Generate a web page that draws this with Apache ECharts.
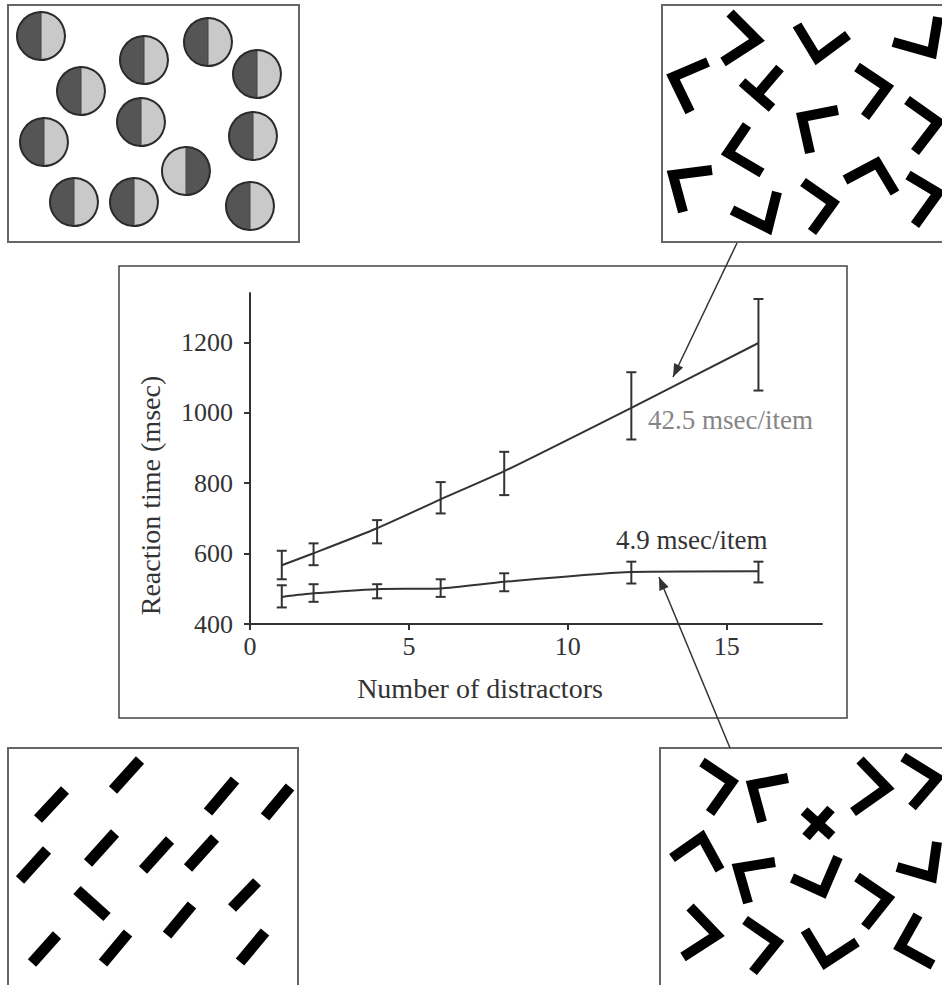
<!DOCTYPE html>
<html><head><meta charset="utf-8">
<script src="https://cdn.jsdelivr.net/npm/echarts@6/dist/echarts.min.js"></script>
<style>html,body{margin:0;padding:0;background:#fff}#c{width:942px;height:985px}</style>
</head><body><div id="c"></div>
<script>
// ---- data ----
const distractors = [1, 2, 4, 6, 8, 12, 16];
const conjMean = [567, 601, 672, 754, 834, 1014, 1198];
const conjLow  = [527, 567, 629, 714, 766, 924, 1063];
const conjHigh = [608, 629, 695, 803, 889, 1115, 1323];
const featMean = [477, 487, 499, 501, 520, 548, 550];
const featLow  = [447, 463, 473, 477, 493, 515, 518];
const featHigh = [510, 513, 513, 527, 544, 577, 577];
const xTicks = [0, 5, 10, 15];
const yTicks = [400, 600, 800, 1000, 1200];
const slopeLabels = ['42.5 msec/item', '4.9 msec/item'];
const xName = 'Number of distractors';
const yName = 'Reaction time (msec)';

// ---- decorative stimulus panels ----
const FONT = '"Liberation Serif", "DejaVu Serif", serif';
const circles = [[41,36,0],[144,60,0],[208,42,0],[257,74,0],[81,91,0],[141,122,0],[44,142,0],[253,136,0],[186,171,1],[74,202,0],[134,202,0],[250,206,0]];
const topRightShapes = [
  [[730,13],[757,40],[723,62]],
  [[797,25],[817,58],[848,35]],
  [[893,42],[932,53],[938,17]],
  [[708,62],[673,77],[690,112]],
  [[742,82],[772,108]], [[757,95],[780,68]],
  [[857,67],[887,87],[865,117]],
  [[838,110],[802,117],[810,153]],
  [[747,125],[728,153],[762,173]],
  [[907,100],[938,122],[915,152]],
  [[712,170],[673,175],[683,212]],
  [[732,210],[768,228],[777,192]],
  [[803,182],[833,203],[812,232]],
  [[845,180],[877,163],[895,193]],
  [[908,175],[938,193],[915,225]]
];
const bottomLeftBars = [
  [[38,819],[65,790]],[[113,790],[140,760]],[[208,812],[235,780]],[[265,817],[290,787]],
  [[20,880],[47,850]],[[88,863],[115,833]],[[143,870],[170,840]],[[188,868],[215,838]],
  [[77,890],[107,917]],[[232,908],[257,882]],[[167,935],[192,905]],
  [[32,963],[57,935]],[[103,963],[128,933]],[[240,962],[265,932]]
];
const bottomRightShapes = [
  [[702,762],[732,782],[710,813]],
  [[788,778],[752,785],[762,822]],
  [[804,811],[832,836]], [[831,809],[806,837]],
  [[860,760],[887,788],[853,812]],
  [[903,757],[937,778],[912,807]],
  [[672,858],[702,837],[720,870]],
  [[775,862],[738,868],[748,903]],
  [[792,878],[823,892],[838,857]],
  [[897,867],[932,877],[937,842]],
  [[857,877],[888,898],[865,927]],
  [[690,907],[717,935],[683,957]],
  [[745,920],[777,942],[753,972]],
  [[805,930],[825,963],[857,942]],
  [[918,915],[900,947],[933,965]]
];

const graphics = [];
function rect(x, y, w, h, stroke, lw) {
  graphics.push({type:'rect', shape:{x, y, width:w, height:h}, style:{fill:'none', stroke, lineWidth:lw}, z:1});
}
rect(8, 5, 291, 237, '#666', 2);
rect(662, 5, 290, 237, '#666', 2);
rect(8, 748, 290, 250, '#666', 2);
rect(660, 748, 290, 250, '#666', 2);
rect(119, 266, 728, 452, '#444', 1.5);

circles.forEach(([cx, cy, f]) => {
  const dark = '#555', light = '#c9c9c9';
  const a = f ? light : dark, b = f ? dark : light;
  graphics.push({type:'circle', shape:{cx, cy, r:24}, z:2, style:{
    fill:{type:'linear', x:0, y:0, x2:1, y2:0, colorStops:[
      {offset:0, color:a},{offset:0.5, color:a},{offset:0.5, color:b},{offset:1, color:b}]},
    stroke:'#2b2b2b', lineWidth:2}});
  graphics.push({type:'line', shape:{x1:cx, y1:cy-23, x2:cx, y2:cy+23}, style:{stroke:'#444', lineWidth:1}, z:3});
});
function strokes(list, lw) {
  list.forEach(pts => graphics.push({type:'polyline', shape:{points:pts}, z:2,
    style:{stroke:'#000', lineWidth:lw, fill:'none', lineJoin:'miter', lineCap:'butt'}}));
}
strokes(topRightShapes, 10);
strokes(bottomLeftBars, 11);
strokes(bottomRightShapes, 10);

function arrow(x1, y1, x2, y2) {
  graphics.push({type:'line', shape:{x1, y1, x2, y2}, style:{stroke:'#333', lineWidth:1.5}, z:5});
  const ang = Math.atan2(y2 - y1, x2 - x1), L = 13, W = 5;
  const bx = x2 - L * Math.cos(ang), by = y2 - L * Math.sin(ang);
  const px = -Math.sin(ang) * W, py = Math.cos(ang) * W;
  graphics.push({type:'polygon', shape:{points:[[x2,y2],[bx+px,by+py],[bx-px,by-py]]}, style:{fill:'#333'}, z:5});
}
arrow(737, 243, 673, 377);
arrow(730, 748, 659, 577);

graphics.push({type:'text', x:648, y:420, z:5, style:{text:slopeLabels[0], fill:'#858585', font:'27px ' + FONT, verticalAlign:'middle', align:'left'}});
graphics.push({type:'text', x:616, y:540, z:5, style:{text:slopeLabels[1], fill:'#333', font:'27px ' + FONT, verticalAlign:'middle', align:'left'}});

// ---- chart ----
function errRender(params, api) {
  const x = api.value(0), lo = api.value(1), hi = api.value(2);
  const pLo = api.coord([x, lo]), pHi = api.coord([x, hi]);
  const w = 5;
  const style = {stroke:'#333', lineWidth:2, fill:null};
  return {type:'group', children:[
    {type:'line', shape:{x1:pLo[0], y1:pLo[1], x2:pHi[0], y2:pHi[1]}, style},
    {type:'line', shape:{x1:pLo[0]-w, y1:pLo[1], x2:pLo[0]+w, y2:pLo[1]}, style},
    {type:'line', shape:{x1:pHi[0]-w, y1:pHi[1], x2:pHi[0]+w, y2:pHi[1]}, style}
  ]};
}
const zip = (a, b) => a.map((v, i) => [v, b[i]]);
const zip3 = (a, b, c) => a.map((v, i) => [v, b[i], c[i]]);

const axisLineStyle = {color:'#333', width:2};
const option = {
  animation: false,
  backgroundColor: '#fff',
  grid: {left:250, right:120, top:293, bottom:361, containLabel:false},
  xAxis: {
    type:'value', min:0, max:18, interval:5,
    axisLine:{show:true, onZero:false, lineStyle:axisLineStyle},
    axisTick:{show:true, length:6, customValues:xTicks, lineStyle:axisLineStyle},
    axisLabel:{customValues:xTicks, formatter:v => String(v), fontFamily:FONT, fontSize:26, color:'#333', margin:9},
    splitLine:{show:false},
    name:xName, nameLocation:'middle', nameGap:50,
    nameTextStyle:{fontFamily:FONT, fontSize:28, color:'#333', padding:[0,112,0,0]}
  },
  yAxis: {
    type:'value', min:400, max:1340, interval:200,
    axisLine:{show:true, onZero:false, lineStyle:axisLineStyle},
    axisTick:{show:true, length:6, customValues:yTicks, lineStyle:axisLineStyle},
    axisLabel:{customValues:yTicks, formatter:v => String(v), fontFamily:FONT, fontSize:26, color:'#333', margin:17},
    splitLine:{show:false},
    name:yName, nameLocation:'middle', nameGap:86,
    nameTextStyle:{fontFamily:FONT, fontSize:28, color:'#333', padding:[0,74,0,0]}
  },
  series: [
    {type:'line', data:zip(distractors, conjMean), smooth:0.2, symbol:'none', lineStyle:{color:'#333', width:2}},
    {type:'line', data:zip(distractors, featMean), smooth:0.2, symbol:'none', lineStyle:{color:'#333', width:2}},
    {type:'custom', renderItem:errRender, data:zip3(distractors, conjLow, conjHigh), encode:{x:0, y:[1,2]}},
    {type:'custom', renderItem:errRender, data:zip3(distractors, featLow, featHigh), encode:{x:0, y:[1,2]}}
  ],
  graphic: graphics
};
const chart = echarts.init(document.getElementById('c'), null, {renderer:'svg'});
chart.setOption(option);
</script>
</body></html>
